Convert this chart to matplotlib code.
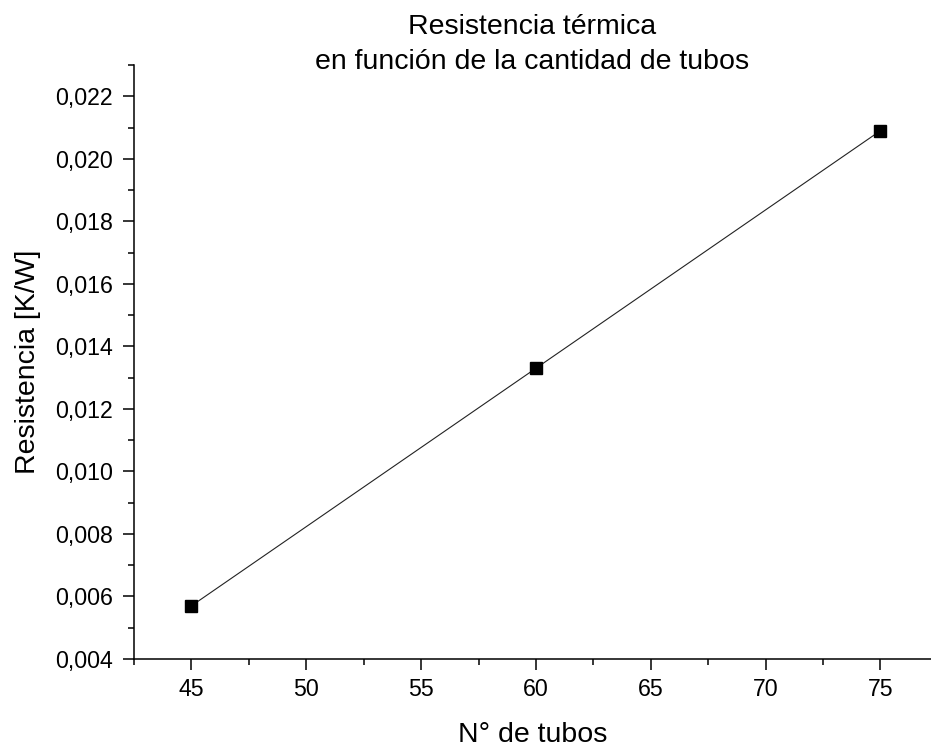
import matplotlib
matplotlib.use('Agg')
import matplotlib.pyplot as plt
from matplotlib.ticker import MultipleLocator, FuncFormatter

# Resistencia térmica vs número de tubos
n_tubos = [45, 60, 75]
resistencia = [0.0057, 0.0133, 0.0209]

plt.rcParams['font.family'] = ['Liberation Sans', 'DejaVu Sans']

fig = plt.figure(figsize=(9.31, 7.5), dpi=100)
ax = fig.add_axes([0.1439, 0.1213, 0.8561, 0.792])

ax.plot(n_tubos, resistencia, color='#222222', linewidth=0.8,
        marker='s', markersize=8.5, markerfacecolor='black',
        markeredgecolor='black', zorder=3)

ax.set_xlim(42.5, 77.2)
ax.set_ylim(0.004, 0.023)

ax.xaxis.set_major_locator(MultipleLocator(5))
ax.xaxis.set_minor_locator(MultipleLocator(2.5))
ax.yaxis.set_major_locator(MultipleLocator(0.002))
ax.yaxis.set_minor_locator(MultipleLocator(0.001))
ax.yaxis.set_major_formatter(FuncFormatter(lambda v, p: f"{v:.3f}".replace('.', ',')))

for side in ['top', 'right']:
    ax.spines[side].set_visible(False)
for side in ['left', 'bottom']:
    ax.spines[side].set_linewidth(1.1)

ax.tick_params(which='major', direction='out', length=8, width=1.1,
               labelsize=16.7, pad=6)
ax.tick_params(which='minor', direction='out', length=4.3, width=1.1)
ax.tick_params(axis='y', which='major', pad=7)

ax.set_xlabel('N° de tubos', fontsize=20.5, labelpad=15)
ax.set_ylabel('Resistencia [K/W]', fontsize=20.5, labelpad=10)
ax.set_title('Resistencia térmica\nen función de la cantidad de tubos',
             fontsize=20.5, linespacing=1.45, y=1.0, pad=-3)

fig.savefig('out.png', dpi=100)
